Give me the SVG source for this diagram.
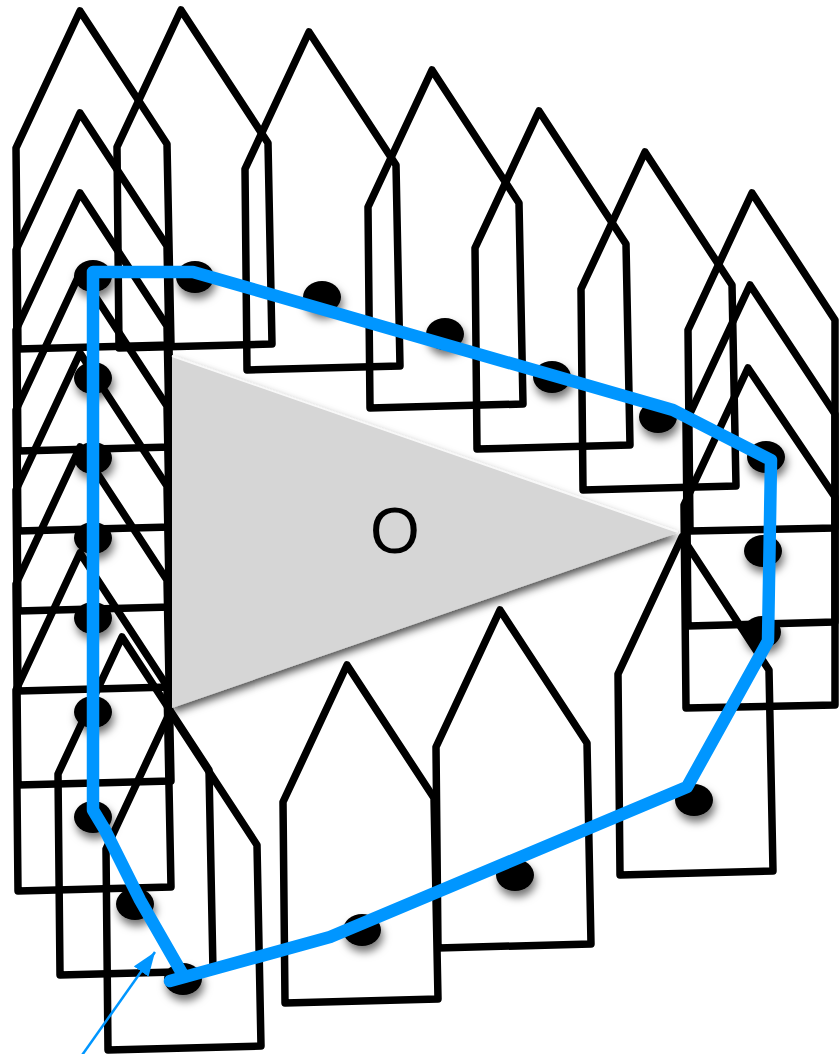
<svg xmlns="http://www.w3.org/2000/svg" xmlns:xlink="http://www.w3.org/1999/xlink" width="839" height="1054" viewBox="0 0 839 1054">
<style>
.boat{fill:none;stroke:#000;stroke-width:7.5;stroke-linejoin:round}
.dot{fill:#000;filter:url(#dotShadow)}
.hull{fill:none;stroke:#0096ff;stroke-width:12.5;stroke-linejoin:round;stroke-linecap:round}
.arrow{fill:none;stroke:#0096ff;stroke-width:2.5}
.label{font-family:"Liberation Sans",Arial,sans-serif;font-size:64px;fill:#000}
</style>
<defs>
<path id="boatShape" d="M0,0 L87,133 L91,334 L-62,338 L-64,137 Z"/>
<filter id="dotShadow" x="-50%" y="-50%" width="200%" height="220%">
<feDropShadow dx="2" dy="6" stdDeviation="4" flood-color="#000" flood-opacity="0.55"/>
</filter>
<filter id="triShadow" x="-10%" y="-10%" width="120%" height="130%">
<feDropShadow dx="0" dy="5" stdDeviation="4" flood-color="#000" flood-opacity="0.7"/>
</filter>
<marker id="arrowHead" markerUnits="userSpaceOnUse" markerWidth="24" markerHeight="18" refX="24" refY="9" orient="auto">
<path d="M0,0 L24,9 L0,18 Z" fill="#0096ff"/>
</marker>
</defs>
<rect width="839" height="1054" fill="#fff"/>

<g id="boat-L1"><use xlink:href="#boatShape" class="boat" transform="translate(80,11)"/><ellipse class="dot" cx="93" cy="276" rx="19" ry="16"/></g>
<g id="boat-L2"><use xlink:href="#boatShape" class="boat" transform="translate(80,113)"/><ellipse class="dot" cx="93" cy="378" rx="19" ry="16"/></g>
<g id="boat-L3"><use xlink:href="#boatShape" class="boat" transform="translate(80,193)"/><ellipse class="dot" cx="93" cy="458" rx="19" ry="16"/></g>
<g id="boat-L4"><use xlink:href="#boatShape" class="boat" transform="translate(80,273)"/><ellipse class="dot" cx="93" cy="538" rx="19" ry="16"/></g>
<g id="boat-L5"><use xlink:href="#boatShape" class="boat" transform="translate(80,353)"/><ellipse class="dot" cx="93" cy="618" rx="19" ry="16"/></g>
<g id="boat-L6"><use xlink:href="#boatShape" class="boat" transform="translate(80,447)"/><ellipse class="dot" cx="93" cy="712" rx="19" ry="16"/></g>
<g id="boat-L7"><use xlink:href="#boatShape" class="boat" transform="translate(80,553)"/><ellipse class="dot" cx="93" cy="817" rx="19" ry="16"/></g>
<g id="boat-B1"><use xlink:href="#boatShape" class="boat" transform="translate(122,637)"/><ellipse class="dot" cx="135" cy="904" rx="19" ry="16"/></g>
<g id="boat-B2"><use xlink:href="#boatShape" class="boat" transform="translate(170,712)"/><ellipse class="dot" cx="183" cy="979" rx="19" ry="16"/></g>
<g id="boat-T2"><use xlink:href="#boatShape" class="boat" transform="translate(181,10)"/><ellipse class="dot" cx="195" cy="277" rx="19" ry="16"/></g>
<g id="boat-T3"><use xlink:href="#boatShape" class="boat" transform="translate(309,32)"/><ellipse class="dot" cx="322" cy="297" rx="19" ry="16"/></g>
<g id="boat-T4"><use xlink:href="#boatShape" class="boat" transform="translate(432,70)"/><ellipse class="dot" cx="445" cy="334" rx="19" ry="16"/></g>
<g id="boat-T5"><use xlink:href="#boatShape" class="boat" transform="translate(539,111)"/><ellipse class="dot" cx="552" cy="377" rx="19" ry="16"/></g>
<g id="boat-T6"><use xlink:href="#boatShape" class="boat" transform="translate(645,152)"/><ellipse class="dot" cx="658" cy="417" rx="19" ry="16"/></g>
<g id="boat-R1"><path class="boat" d="M752,193 L835,320 L835,528 L690,531 L688,330 Z"/><ellipse class="dot" cx="766" cy="457" rx="19" ry="16"/></g>
<g id="boat-R2"><path class="boat" d="M750,285 L835,414 L835,622 L688,626 L686,422 Z"/><ellipse class="dot" cx="763" cy="551" rx="19" ry="16"/></g>
<g id="boat-R3"><path class="boat" d="M748,368 L835,497 L835,705 L686,708 L684,505 Z"/><ellipse class="dot" cx="762" cy="632" rx="19" ry="16"/></g>
<g id="boat-M"><use xlink:href="#boatShape" class="boat" transform="translate(682,537)"/><ellipse class="dot" cx="694" cy="800" rx="19" ry="16"/></g>
<g id="boat-S1"><use xlink:href="#boatShape" class="boat" transform="translate(500,610)"/><ellipse class="dot" cx="515" cy="875" rx="19" ry="16"/></g>
<g id="boat-S2"><use xlink:href="#boatShape" class="boat" transform="translate(347,665)"/><ellipse class="dot" cx="362" cy="930" rx="19" ry="16"/></g>

<g id="obstacle">
<polygon points="172,355 680,532 172,708" fill="#d6d6d6" filter="url(#triShadow)"/>
<line x1="172" y1="356" x2="678" y2="532" stroke="#fff" stroke-width="2" opacity="0.85"/>
<text class="label" x="395" y="553" text-anchor="middle">O</text>
</g>

<g id="hull">
<path class="hull" d="M170,981 L330,937 L687,787 L768,641 L771,460 L673,410 L193,272 L93,272 L93,810 L105,830 L140,900 L183,975"/>
</g>

<g id="connectors">
<line class="arrow" x1="80" y1="1058" x2="155" y2="952" marker-end="url(#arrowHead)"/>
</g>
</svg>
